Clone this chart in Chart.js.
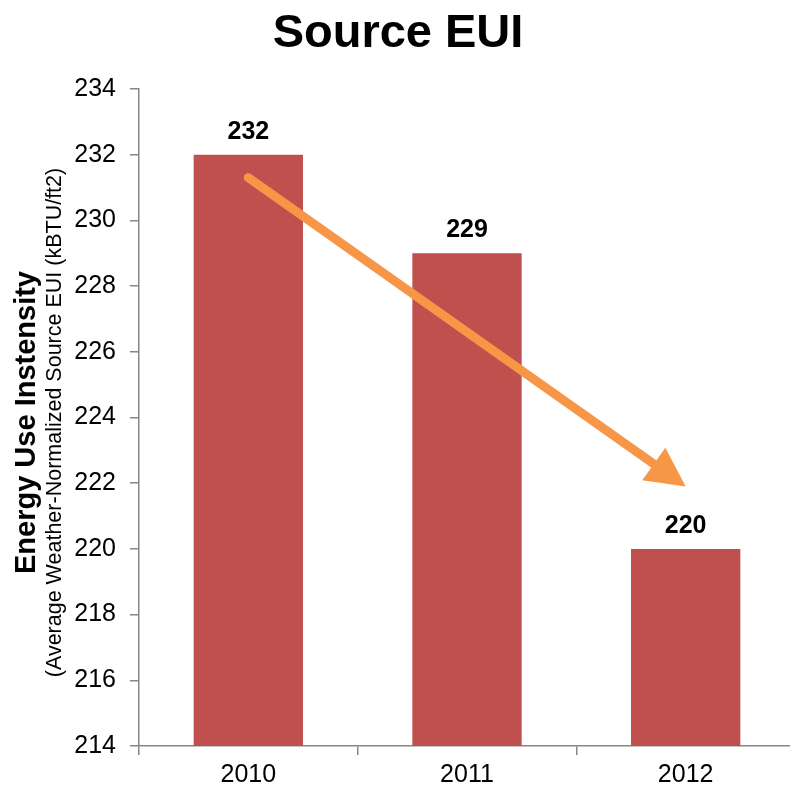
<!DOCTYPE html>
<html>
<head>
<meta charset="utf-8">
<script src="https://cdn.jsdelivr.net/npm/chart.js@4/dist/chart.umd.min.js"></script>
<style>
  html, body { margin: 0; padding: 0; background: #fff; overflow: hidden; }
  #wrap { width: 795px; height: 790px; }
</style>
</head>
<body>
<div id="wrap"><canvas id="c" width="795" height="790"></canvas></div>
<script>
// Source EUI by year
const years = ['2010', '2011', '2012'];
const sourceEui = [232, 229, 220];
const yTicks = { min: 214, max: 234, step: 2 };

// Trend arrow endpoints, in data space: [category index, EUI]
const trendStart = [0, 231.3];
const trendEnd = [2, 221.9];

const chartTitle = 'Source EUI';
const yTitleMain = 'Energy Use Instensity';
const yTitleSub = '(Average Weather-Normalized Source EUI (kBTU/ft2)';

const FONT = "'Liberation Sans', Arial, Helvetica, sans-serif";
Chart.defaults.font.family = FONT;
Chart.defaults.color = '#000';

const decorations = {
  id: 'decorations',
  afterDatasetsDraw(chart) {
    const ctx = chart.ctx;
    const xs = chart.scales.x, ys = chart.scales.y;

    // value labels above bars
    ctx.save();
    ctx.fillStyle = '#000';
    ctx.font = 'bold 25px ' + FONT;
    ctx.textAlign = 'center';
    ctx.textBaseline = 'alphabetic';
    chart.getDatasetMeta(0).data.forEach((bar, i) => {
      ctx.fillText(String(sourceEui[i]), bar.x, bar.y - 16);
    });
    ctx.restore();

    // trend arrow
    const x0 = xs.getPixelForValue(trendStart[0]), y0 = ys.getPixelForValue(trendStart[1]);
    const x1 = xs.getPixelForValue(trendEnd[0]), y1 = ys.getPixelForValue(trendEnd[1]);
    const dx = x1 - x0, dy = y1 - y0, len = Math.hypot(dx, dy);
    const ux = dx / len, uy = dy / len;
    const headLen = 39, headHalf = 20;
    const bx = x1 - ux * headLen, by = y1 - uy * headLen;
    ctx.save();
    ctx.strokeStyle = '#F79646';
    ctx.fillStyle = '#F79646';
    ctx.lineWidth = 9;
    ctx.lineCap = 'round';
    ctx.beginPath();
    ctx.moveTo(x0, y0);
    ctx.lineTo(bx + ux * 2, by + uy * 2);
    ctx.stroke();
    ctx.beginPath();
    ctx.moveTo(x1, y1);
    ctx.lineTo(bx - uy * headHalf, by + ux * headHalf);
    ctx.lineTo(bx + uy * headHalf, by - ux * headHalf);
    ctx.closePath();
    ctx.fill();
    ctx.restore();
  },
  afterDraw(chart) {
    const ctx = chart.ctx;
    const area = chart.chartArea;
    ctx.save();
    ctx.fillStyle = '#000';
    // chart title
    ctx.font = 'bold 47px ' + FONT;
    ctx.textAlign = 'center';
    ctx.textBaseline = 'alphabetic';
    ctx.fillText(chartTitle, 398, 47);
    // rotated y-axis title, two lines
    const cy = (area.top + area.bottom) / 2 + 5;
    ctx.translate(0, cy);
    ctx.rotate(-Math.PI / 2);
    ctx.textBaseline = 'middle';
    ctx.font = 'bold 29px ' + FONT;
    ctx.fillText(yTitleMain, 0, 27);
    ctx.font = '21.5px ' + FONT;
    ctx.fillText(yTitleSub, 0, 55);
    ctx.restore();
  }
};

new Chart(document.getElementById('c'), {
  type: 'bar',
  data: {
    labels: years,
    datasets: [{
      data: sourceEui,
      backgroundColor: '#C0504D',
      borderWidth: 0,
      categoryPercentage: 1,
      barPercentage: 0.5
    }]
  },
  options: {
    responsive: false,
    animation: false,
    devicePixelRatio: 1,
    layout: { padding: { top: 89, left: 0, right: 0, bottom: 0 } },
    plugins: {
      legend: { display: false },
      title: { display: false },
      tooltip: { enabled: false }
    },
    scales: {
      x: {
        grid: { offset: true, drawOnChartArea: false, drawTicks: true, tickLength: 9, color: '#868686', lineWidth: 1.5 },
        border: { color: '#868686', width: 1.5 },
        ticks: { font: { size: 25 }, color: '#000', padding: 5 },
        afterFit(s) { s.height = 44; }
      },
      y: {
        min: yTicks.min,
        max: yTicks.max,
        grid: { drawOnChartArea: false, drawTicks: true, tickLength: 9, color: '#868686', lineWidth: 1.5 },
        border: { color: '#868686', width: 1.5 },
        ticks: { stepSize: yTicks.step, font: { size: 25 }, color: '#000', padding: 14 },
        afterFit(s) { s.width = 139; }
      }
    }
  },
  plugins: [decorations]
});
</script>
</body>
</html>
